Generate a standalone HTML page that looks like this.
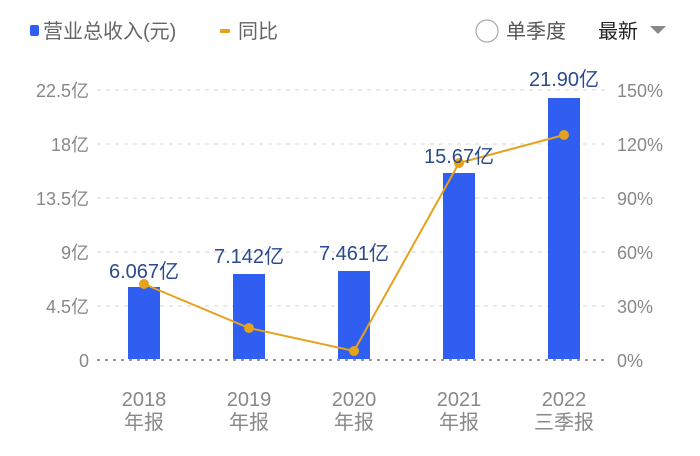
<!DOCTYPE html><html><head><meta charset="utf-8"><style>body{margin:0;background:#fff}svg{display:block;font-family:"Liberation Sans","Noto Sans CJK SC",sans-serif}</style></head><body>
<svg width="700" height="456" viewBox="0 0 700 456">
<rect x="30" y="25" width="9" height="11" rx="2" fill="#2f5ef0"/>
<text x="43" y="38" font-size="20" fill="#666">营业总收入(元)</text>
<rect x="220" y="29" width="10" height="4" rx="1" fill="#e5a21c"/>
<text x="238" y="38" font-size="20" fill="#666">同比</text>
<circle cx="487" cy="31" r="11" fill="none" stroke="#aaa" stroke-width="1.2"/>
<text x="506" y="38" font-size="20" fill="#555">单季度</text>
<text x="598" y="38" font-size="20" fill="#222">最新</text>
<path d="M650 26 L666 26 L658 34 Z" fill="#888"/>
<g stroke="#ddd" stroke-dasharray="4,5" stroke-width="1.2">
<line x1="97" y1="90" x2="605" y2="90"/><line x1="97" y1="144" x2="605" y2="144"/><line x1="97" y1="198" x2="605" y2="198"/><line x1="97" y1="252" x2="605" y2="252"/><line x1="97" y1="306" x2="605" y2="306"/></g>
<line x1="97" y1="360" x2="605" y2="360" stroke="#777" stroke-dasharray="3,5" stroke-width="1.5"/>
<g font-size="18" fill="#888" text-anchor="end">
<text x="89" y="97">22.5亿</text><text x="89" y="151">18亿</text><text x="89" y="205">13.5亿</text><text x="89" y="259">9亿</text><text x="89" y="313">4.5亿</text><text x="89" y="367">0</text></g>
<g font-size="18" fill="#888">
<text x="617" y="97">150%</text><text x="617" y="151">120%</text><text x="617" y="205">90%</text><text x="617" y="259">60%</text><text x="617" y="313">30%</text><text x="617" y="367">0%</text></g>
<g fill="#2f5ef0">
<rect x="128" y="287" width="32" height="72"/><rect x="233" y="274" width="32" height="85"/><rect x="338" y="271" width="32" height="88"/><rect x="443" y="173" width="32" height="186"/><rect x="548" y="98" width="32" height="261"/></g>
<polyline points="144,284 249,328 354,351 459,163 564,135" fill="none" stroke="#e5a21c" stroke-width="2"/>
<g fill="#e5a21c"><circle cx="144" cy="284" r="5"/><circle cx="249" cy="328" r="5"/><circle cx="354" cy="351" r="5"/><circle cx="459" cy="163" r="5"/><circle cx="564" cy="135" r="5"/></g>
<g font-size="20" fill="#2a4a8e" text-anchor="middle">
<text x="144" y="278">6.067亿</text><text x="249" y="263">7.142亿</text><text x="354" y="260">7.461亿</text><text x="459" y="163">15.67亿</text><text x="564" y="86">21.90亿</text></g>
<g font-size="20" fill="#888" text-anchor="middle">
<text x="144" y="406">2018</text><text x="144" y="429">年报</text>
<text x="249" y="406">2019</text><text x="249" y="429">年报</text>
<text x="354" y="406">2020</text><text x="354" y="429">年报</text>
<text x="459" y="406">2021</text><text x="459" y="429">年报</text>
<text x="564" y="406">2022</text><text x="564" y="429">三季报</text></g>
</svg></body></html>
